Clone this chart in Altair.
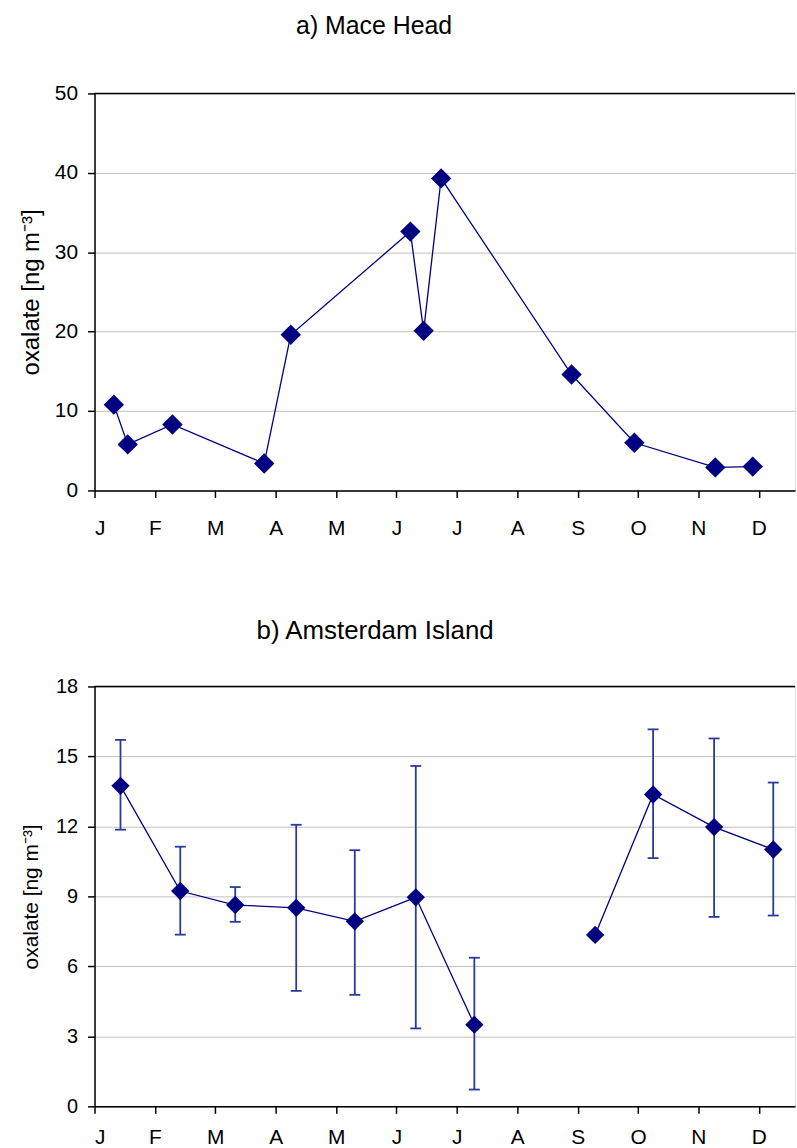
import altair as alt
import pandas as pd

# ---- data ----
month_letters = ["J", "F", "M", "A", "M", "J", "J", "A", "S", "O", "N", "D"]
month_ticks = list(range(12))

# a) Mace Head  (x = months since 1 January)
mh_month = [0.32, 0.55, 1.29, 2.81, 3.25, 5.23, 5.45, 5.74, 7.90, 8.94, 10.28, 10.90]
mh_oxalate = [10.8, 5.8, 8.3, 3.4, 19.6, 32.6, 20.1, 39.3, 14.6, 6.0, 2.9, 3.0]

# b) Amsterdam Island
ams_month = [0.43, 1.42, 2.33, 3.34, 4.31, 5.32, 6.29, 8.29, 9.25, 10.26, 11.24]
ams_oxalate = [13.74, 9.23, 8.63, 8.51, 7.93, 8.96, 3.50, 7.35, 13.37, 11.97, 11.01]
ams_high = [15.71, 11.13, 9.40, 12.07, 10.98, 14.59, 6.37, None, 16.16, 15.77, 13.88]
ams_low = [11.86, 7.36, 7.91, 4.95, 4.78, 3.34, 0.72, None, 10.64, 8.12, 8.18]
ams_segment = [1, 1, 1, 1, 1, 1, 1, 2, 2, 2, 2]

mh_yticks = [0, 10, 20, 30, 40, 50]
ams_yticks = [0, 3, 6, 9, 12, 15, 18]

FONT = "Liberation Sans"
NAVY = "#000080"
ERR = "#2a3a9a"
X_MAX = 11.6
PLOT_W = 704

label_expr = "[" + ",".join("'%s'" % m for m in month_letters) + "][datum.value]"

mh_df = pd.DataFrame({"month": mh_month, "oxalate": mh_oxalate})
ams_df = pd.DataFrame({"month": ams_month, "oxalate": ams_oxalate, "segment": ams_segment})
err_df = pd.DataFrame(
    [
        {"month": m, "low": lo, "high": hi}
        for m, lo, hi in zip(ams_month, ams_low, ams_high)
        if lo is not None and hi is not None
    ]
)


def x_enc(label_padding):
    return alt.X(
        "month:Q",
        scale=alt.Scale(domain=[0, X_MAX], nice=False, zero=False),
        axis=alt.Axis(
            values=month_ticks,
            labelExpr=label_expr,
            grid=False,
            tickSize=7,
            tickWidth=1.5,
            tickColor="black",
            domainColor="black",
            domainWidth=1.5,
            labelPadding=label_padding,
            labelFontSize=21,
            labelColor="black",
            labelFont=FONT,
            title=None,
        ),
    )


def y_enc(ymax, ticks, height, label_size, title_size):
    return alt.Y(
        "oxalate:Q",
        scale=alt.Scale(domain=[0, ymax], nice=False, zero=True),
        axis=alt.Axis(
            values=ticks,
            grid=True,
            gridColor="#c0c0c0",
            gridWidth=1,
            tickSize=7,
            tickWidth=1.5,
            tickColor="black",
            domainColor="black",
            domainWidth=1.5,
            labelPadding=10,
            labelFontSize=label_size,
            labelColor="black",
            labelFont=FONT,
            title="oxalate [ng m⁻³]",
            titleFont=FONT,
            titleFontSize=title_size,
            titleFontWeight="normal",
            titleColor="black",
            titleX=-63,
            titleY=height / 2,
            titleAngle=270,
            titleAlign="center",
            titleBaseline="middle",
        ),
    )


# ---- top panel ----
H1 = 399
top_base = alt.Chart(mh_df)
top_line = top_base.mark_line(color=NAVY, strokeWidth=1.3).encode(
    x=x_enc(19.8), y=y_enc(50, mh_yticks, H1, 21, 24)
)
top_pts = top_base.mark_point(shape="diamond", filled=True, size=420, color=NAVY, opacity=1).encode(
    x="month:Q", y="oxalate:Q"
)
top_border = alt.Chart(pd.DataFrame({"oxalate": [mh_yticks[-1]]})).mark_rule(
    color="black", strokeWidth=1.5
).encode(y="oxalate:Q")

top = alt.layer(top_line, top_pts, top_border).properties(
    width=PLOT_W,
    height=H1,
    title=alt.TitleParams(
        "a) Mace Head",
        font=FONT,
        fontSize=25,
        fontWeight="normal",
        color="black",
        anchor="middle",
        dx=-71,
        offset=24,
        baseline="alphabetic",
    ),
)

# ---- bottom panel ----
H2 = 422
bot_base = alt.Chart(ams_df)
bot_line = bot_base.mark_line(color=NAVY, strokeWidth=1.3).encode(
    x=x_enc(13.8), y=y_enc(18, ams_yticks, H2, 20, 21), detail="segment:N"
)
bot_err = alt.Chart(err_df).mark_rule(color=ERR, strokeWidth=1.8).encode(
    x="month:Q", y="low:Q", y2="high:Q"
)
bot_cap_hi = alt.Chart(err_df).mark_tick(
    color=ERR, orient="horizontal", size=11, thickness=1.8, opacity=1
).encode(x="month:Q", y="high:Q")
bot_cap_lo = alt.Chart(err_df).mark_tick(
    color=ERR, orient="horizontal", size=11, thickness=1.8, opacity=1
).encode(x="month:Q", y="low:Q")
bot_pts = bot_base.mark_point(shape="diamond", filled=True, size=340, color=NAVY, opacity=1).encode(
    x="month:Q", y="oxalate:Q"
)
bot_border = alt.Chart(pd.DataFrame({"oxalate": [ams_yticks[-1]]})).mark_rule(
    color="black", strokeWidth=1.5
).encode(y="oxalate:Q")

bottom = alt.layer(bot_line, bot_err, bot_cap_hi, bot_cap_lo, bot_pts, bot_border).properties(
    width=PLOT_W,
    height=H2,
    title=alt.TitleParams(
        "b) Amsterdam Island",
        font=FONT,
        fontSize=26,
        fontWeight="normal",
        color="black",
        anchor="middle",
        dx=-70,
        offset=12,
        baseline="alphabetic",
    ),
)

chart = (
    alt.vconcat(top, bottom, spacing=78)
    .properties(padding={"left": 19, "top": 10, "right": 0, "bottom": 0})
    .configure_view(stroke=None)
    .configure(background="white")
)

chart.save("out.html", embed_options={"renderer": "svg", "actions": False})
